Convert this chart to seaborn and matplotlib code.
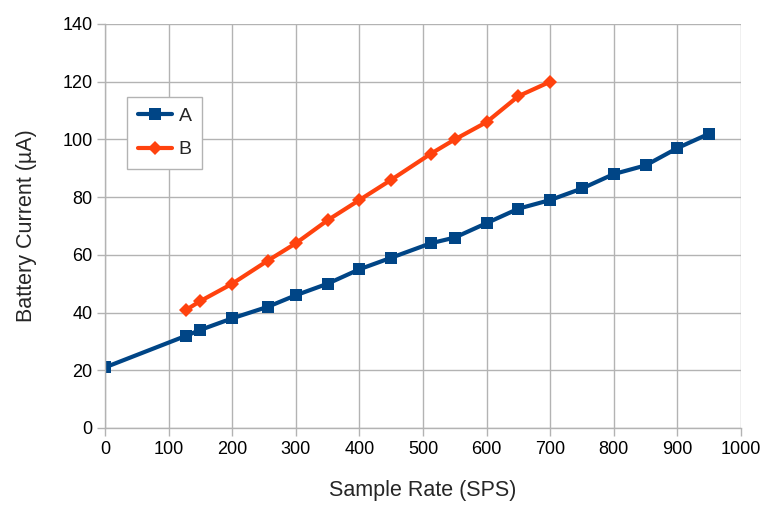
import matplotlib
matplotlib.use("Agg")
import matplotlib.pyplot as plt
import seaborn as sns
import pandas as pd

rate_a = [0, 128, 150, 200, 256, 300, 350, 400, 450, 512, 550, 600, 650, 700, 750, 800, 850, 900, 950]
current_a = [21, 32, 34, 38, 42, 46, 50, 55, 59, 64, 66, 71, 76, 79, 83, 88, 91, 97, 102]
rate_b = [128, 150, 200, 256, 300, 350, 400, 450, 512, 550, 600, 650, 700]
current_b = [41, 44, 50, 58, 64, 72, 79, 86, 95, 100, 106, 115, 120]
series_names = ["A", "B"]
x_ticks = list(range(0, 1001, 100))
y_ticks = list(range(0, 141, 20))

df = pd.concat([
    pd.DataFrame({"rate": rate_a, "current": current_a, "series": series_names[0]}),
    pd.DataFrame({"rate": rate_b, "current": current_b, "series": series_names[1]}),
])

sns.set_style("white")
plt.rcParams["font.family"] = ["Liberation Sans", "DejaVu Sans"]

fig = plt.figure(figsize=(7.74, 5.29), dpi=100)
ax = fig.add_axes([105/774, 1 - 428/529, (741-105)/774, (428-24)/529])

palette = {"A": "#004586", "B": "#ff420e"}
sns.lineplot(data=df, x="rate", y="current", hue="series", style="series",
             markers={"A": "s", "B": "D"}, dashes=False, palette=palette,
             linewidth=3, markersize=9, markeredgewidth=0, ax=ax, sort=False)
for line in ax.get_lines():
    if line.get_marker() == "D":
        line.set_markersize(7.5)

ax.set_xlim(0, 1000)
ax.set_ylim(0, 140)
ax.set_xticks(x_ticks)
ax.set_yticks(y_ticks)
ax.grid(True, color="#b3b3b3", linewidth=1)
ax.set_axisbelow(True)
for s in ["top", "right"]:
    ax.spines[s].set_visible(False)
for s in ["left", "bottom"]:
    ax.spines[s].set_color("#b3b3b3")
    ax.spines[s].set_linewidth(1)
ax.tick_params(axis="both", which="both", length=6, width=1, color="#b3b3b3",
               labelsize=13, labelcolor="black", pad=3, direction="out",
               bottom=True, left=True)
ax.set_xlabel("Sample Rate (SPS)", fontsize=15.5, labelpad=16)
ax.set_ylabel("Battery Current (µA)", fontsize=15.5, labelpad=18)

leg = ax.legend(loc="upper left", bbox_to_anchor=((127-105)/636, (428-97)/404),
                borderaxespad=0, fontsize=14, frameon=True, fancybox=False,
                handlelength=1.75, borderpad=0.55, labelspacing=0.8, handletextpad=0.35)
leg.get_frame().set_edgecolor("#b3b3b3")
leg.get_frame().set_linewidth(1)
leg.get_frame().set_alpha(1)

fig.savefig("out.png", dpi=100)
